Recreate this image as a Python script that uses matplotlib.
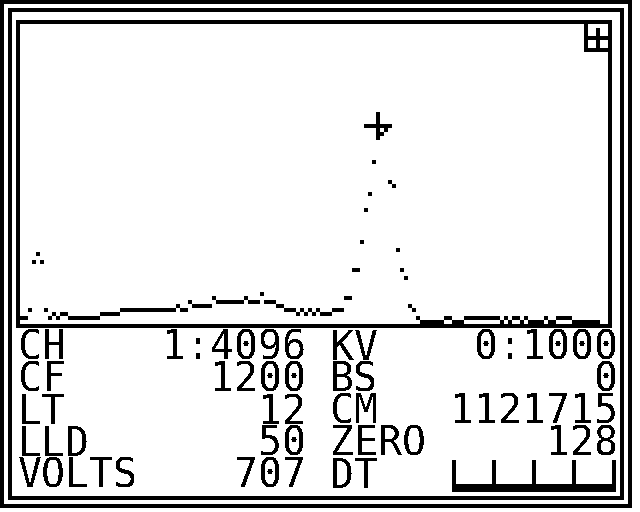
import matplotlib
matplotlib.use('Agg')
import matplotlib.pyplot as plt
from matplotlib.patches import Rectangle

# ── Spectrum data (one value per channel, in screen rows above the baseline) ──
counts = [1, 1, 3, 15, 17, 15, 3, 1, 2, 1, 2, 2,
          1, 1, 1, 1, 1, 1, 1, 1,
          2, 2, 2, 2, 2,
          3, 3, 3, 3, 3, 3, 3, 3, 3, 3, 3, 3, 3, 3,
          4, 3, 3, 5, 4, 4, 4, 4, 4, 6,
          5, 5, 5, 5, 5, 5, 5, 6, 5, 5, 5, 7, 5, 5, 5,
          4, 4, 3, 3, 3, 2, 3, 2, 3, 2, 3, 2, 2, 2, 3, 3, 3,
          6, 6, 13, 13, 20, 28, 32, 40, 46, 47, 48, 35, 34, 18, 13, 11, 4, 3, 1,
          0, 0, 0, 0, 0, 0, 1, 1, 0, 0, 0,
          1, 1, 1, 1, 1, 1, 1, 1, 1, 0, 1, 0, 1, 1, 0, 1,
          0, 0, 0, 0, 1, 0, 0, 1, 1, 1, 1,
          0, 0, 0, 0, 0, 0, 0]
channels = list(range(len(counts)))

# ── Readout text ──────────────────────────────────────────────────────────────
labels_left = ['CH', 'CF', 'LT', 'LLD', 'VOLTS']
values_left = ['1:4096', '1200', '12', '50', '707']
labels_right = ['KV', 'BS', 'CM', 'ZERO', 'DT']
values_right = ['0:1000', '0', '1121715', '128', '']

# ── Layout in screen pixels ───────────────────────────────────────────────────
W, H = 640, 512
CELL = 24
BLACK = '#000000'

plt.rcParams['font.family'] = 'DejaVu Sans Mono'
plt.rcParams['text.antialiased'] = False

fig = plt.figure(figsize=(W / 100, H / 100), dpi=100, facecolor='white')
screen = fig.add_axes([0, 0, 1, 1])
screen.set_xlim(0, W)
screen.set_ylim(H, 0)
screen.axis('off')


def block(x0, y0, x1, y1):
    screen.add_patch(Rectangle((x0, y0), x1 - x0, y1 - y0, facecolor=BLACK,
                               edgecolor='none', antialiased=False))


def frame(x0, y0, x1, y1, t=4):
    block(x0, y0, x1, y0 + t)
    block(x0, y1 - t, x1, y1)
    block(x0, y0, x0 + t, y1)
    block(x1 - t, y0, x1, y1)


# Nested frames
frame(0, 0, 632, 508)
frame(8, 8, 624, 500)
frame(16, 20, 612, 328)

# Spectrum window
spec = fig.add_axes([20 / W, 1 - 324 / H, 588 / W, 300 / H])
spec.set_xlim(0, 147)
spec.set_ylim(0, 75)
spec.axis('off')
spec.patch.set_alpha(0)
spec.bar(channels, [1] * len(channels), bottom=counts, width=1, align='edge',
         color=BLACK, linewidth=0, antialiased=False)

# Cursor
block(376, 112, 380, 140)
block(364, 124, 392, 128)

# Corner icon (open at the top, closes against the window frame on the right)
block(584, 24, 588, 52)
block(584, 48, 608, 52)
block(596, 28, 600, 48)
block(588, 36, 608, 40)


# Readout, strings start on a screen cell
def put(text, col, row):
    screen.text(20 + col * CELL - 2, 360 + row * 32, text, fontsize=28.7,
                ha='left', va='baseline', color=BLACK)


for row in range(5):
    put(labels_left[row], 0, row)
    put(values_left[row], 12 - len(values_left[row]), row)
    put(labels_right[row], 13, row)
    if values_right[row]:
        put(values_right[row], 25 - len(values_right[row]), row)

# DT scale bar
block(452, 484, 616, 492)
for tick_x in [452, 492, 532, 572, 612]:
    block(tick_x, 460, tick_x + 4, 488)

fig.savefig('out.png', dpi=100)
